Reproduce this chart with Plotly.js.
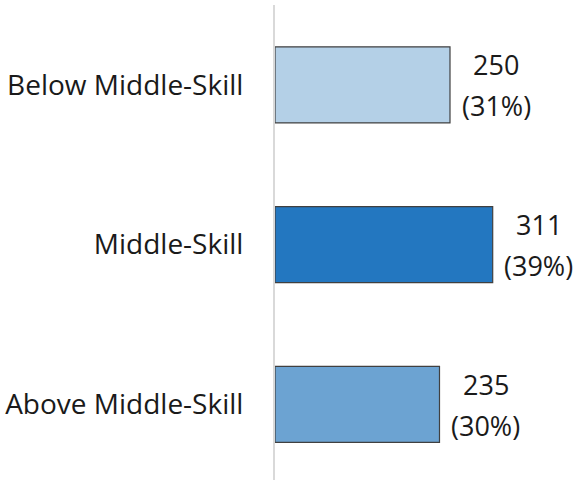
<!DOCTYPE html>
<html>
<head>
<meta charset="utf-8">
<script src="https://cdn.plot.ly/plotly-3.0.1.min.js"></script>
<style>html,body{margin:0;padding:0;background:#fff;}#chart{width:574px;height:480px;}</style>
</head>
<body>
<div id="chart"></div>
<script>
const categories = ["Below Middle-Skill", "Middle-Skill", "Above Middle-Skill"];
const values = [250, 311, 235];
const shares = ["31%", "39%", "30%"];
const colors = ["#b4d0e7", "#2377c0", "#6ca3d2"];

const tickFont = {family: "Open Sans, sans-serif", size: 28, color: "#1a1a1a"};
const valFont = {family: "Open Sans, sans-serif", size: 27, color: "#1a1a1a"};

const trace = {
  type: "bar",
  orientation: "h",
  x: values,
  y: categories,
  marker: {color: colors, line: {color: "#404040", width: 1.2}},
  hoverinfo: "none"
};

const annotations = [];
categories.forEach((c, i) => {
  annotations.push({
    x: values[i], y: c, xref: "x", yref: "y",
    text: String(values[i]), showarrow: false,
    xanchor: "center", yanchor: "middle",
    xshift: 46, yshift: 20, font: valFont
  });
  annotations.push({
    x: values[i], y: c, xref: "x", yref: "y",
    text: "(" + shares[i] + ")", showarrow: false,
    xanchor: "center", yanchor: "middle",
    xshift: 46, yshift: -21, font: valFont
  });
});

const layout = {
  width: 574,
  height: 480,
  margin: {l: 275, r: 19, t: 5, b: 0},
  paper_bgcolor: "#fff",
  plot_bgcolor: "#fff",
  showlegend: false,
  bargap: 0.524,
  font: tickFont,
  xaxis: {range: [0, 400], visible: false, fixedrange: true},
  yaxis: {
    type: "category",
    categoryorder: "array",
    categoryarray: categories,
    range: [2.473, -0.5],
    showline: true,
    linecolor: "#d9d9d9",
    linewidth: 2,
    showgrid: false,
    zeroline: false,
    ticks: "outside",
    ticklen: 24,
    tickcolor: "rgba(0,0,0,0)",
    tickfont: tickFont
  },
  annotations: annotations
};

Plotly.newPlot("chart", [trace], layout, {displayModeBar: false, staticPlot: true});
</script>
</body>
</html>
